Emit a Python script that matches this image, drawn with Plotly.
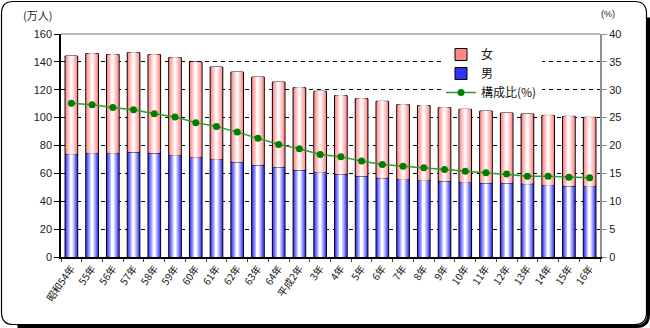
import plotly.graph_objects as go

# ---------------- data ----------------
categories = ["昭和54年", "55年", "56年", "57年", "58年", "59年", "60年", "61年", "62年", "63年",
              "64年", "平成2年", "3年", "4年", "5年", "6年", "7年", "8年", "9年", "10年",
              "11年", "12年", "13年", "14年", "15年", "16年"]
total = [144.2, 145.9, 145.2, 146.6, 145.2, 143.0, 139.9, 136.3, 132.7, 129.1,
         125.5, 121.5, 118.9, 115.8, 113.6, 111.7, 109.3, 108.7, 107.2, 106.0,
         104.7, 103.3, 102.6, 101.6, 100.9, 100.2]
male = [73.7, 74.4, 74.4, 75.3, 74.6, 73.0, 71.6, 70.1, 68.2, 66.0,
        64.6, 62.4, 60.8, 59.5, 58.1, 56.8, 55.7, 55.0, 54.5, 53.6,
        53.1, 53.1, 52.6, 51.4, 50.9, 50.7]
female = [round(t - m, 1) for t, m in zip(total, male)]
ratio = [27.6, 27.3, 26.8, 26.4, 25.7, 25.1, 24.1, 23.4, 22.4, 21.3,
         20.2, 19.4, 18.4, 18.0, 17.2, 16.6, 16.3, 16.0, 15.7, 15.4,
         15.1, 14.9, 14.5, 14.5, 14.3, 14.2]
left_ticks = [0, 20, 40, 60, 80, 100, 120, 140, 160]
right_ticks = [0, 5, 10, 15, 20, 25, 30, 35, 40]

# ---------------- layout geometry ----------------
W, H = 650, 328
L, R, T, B = 61, 50, 34, 71
PW, PH = W - L - R, H - T - B


def px(x):
    return (x - L) / PW


def py(y):
    return (H - B - y) / PH


FONT = "Liberation Sans, Noto Sans CJK JP, sans-serif"
JFONT = "Noto Sans CJK JP, sans-serif"

fig = go.Figure()

BAR_W = 0.61
NL = 7


def mix(c1, c2, t):
    return "rgb(%d,%d,%d)" % tuple(round(a + (b - a) * t) for a, b in zip(c1, c2))


def add_gradient(vals, base, edge, center, name, rank):
    for k in range(NL):
        t = k / (NL - 1)
        w = BAR_W * (1 - 0.85 * t)
        fig.add_trace(go.Bar(
            x=categories, y=vals, base=base, width=w,
            marker=dict(color=mix(edge, center, t),
                        line=dict(color="black", width=1 if k == 0 else 0)),
            name=name, showlegend=(k == 0), legendrank=rank,
            hoverinfo="skip",
        ))


add_gradient(male, [0] * len(male), (50, 50, 255), (255, 255, 255), "男", 2)
add_gradient(female, male, (255, 135, 135), (255, 248, 248), "女", 1)

fig.add_trace(go.Scatter(
    x=categories, y=ratio, yaxis="y2", mode="lines+markers",
    line=dict(color="#2f9a2f", width=1.5),
    marker=dict(color="#008000", size=7),
    name="構成比(%)", legendrank=3,
))

shapes = []
# top border of the plot area
shapes.append(dict(type="line", xref="paper", yref="paper", x0=0, x1=1, y0=1, y1=1,
                   line=dict(color="#a0a0a0", width=1.5), layer="above"))
# outer rounded frame
x0, x1, y0, y1, r = 1.5, 646.5, 1.5, 324.5, 12


def P(x, y):
    return "%f,%f" % (px(x), py(y))


path = ("M " + P(x0 + r, y0) + " L " + P(x1 - r, y0) + " Q " + P(x1, y0) + " " + P(x1, y0 + r) +
        " L " + P(x1, y1 - r) + " Q " + P(x1, y1) + " " + P(x1 - r, y1) +
        " L " + P(x0 + r, y1) + " Q " + P(x0, y1) + " " + P(x0, y1 - r) +
        " L " + P(x0, y0 + r) + " Q " + P(x0, y0) + " " + P(x0 + r, y0) + " Z")
shapes.append(dict(type="path", xref="paper", yref="paper", path=path,
                   line=dict(color="black", width=1.2), layer="below"))
# shadow on right and bottom
sx, sy = 2, 2
spath = ("M " + P(x1 + sx, y0 + r + 4) + " L " + P(x1 + sx, y1 - r + sy) + " Q " + P(x1 + sx, y1 + sy) +
         " " + P(x1 - r + sx, y1 + sy) + " L " + P(x0 + r + 4, y1 + sy))
shapes.append(dict(type="path", xref="paper", yref="paper", path=spath,
                   line=dict(color="black", width=3), layer="below"))

annotations = [
    dict(text="(万人)", xref="paper", yref="paper", x=px(21), y=py(15), xanchor="left",
         yanchor="middle", showarrow=False, font=dict(family=JFONT, size=11, color="#222")),
    dict(text="(%)", xref="paper", yref="paper", x=px(599), y=py(14), xanchor="left",
         yanchor="middle", showarrow=False, font=dict(family=FONT, size=9, color="#222")),
]

fig.update_layout(
    width=W, height=H,
    margin=dict(l=L, r=R, t=T, b=B),
    paper_bgcolor="white", plot_bgcolor="rgba(0,0,0,0)",
    barmode="overlay", bargap=0.39,
    font=dict(family=FONT, size=11, color="#222"),
    showlegend=True,
    legend=dict(x=px(441), y=py(40), xanchor="left", yanchor="top",
                bgcolor="white", borderwidth=0,
                font=dict(family=JFONT, size=12, color="#111"),
                tracegroupgap=0, itemwidth=30),
    xaxis=dict(type="category", categoryorder="array", categoryarray=categories,
               range=[-0.5, len(categories) - 0.5],
               showline=True, linecolor="black", linewidth=1.5,
               ticks="outside", tickson="boundaries", ticklen=3, tickcolor="#444",
               tickangle=-55, tickfont=dict(family=JFONT, size=10, color="#111"),
               showgrid=False),
    yaxis=dict(range=[0, 160], tickvals=left_ticks, showline=True, linecolor="black",
               linewidth=1.5, ticks="outside", ticklen=5, tickcolor="black",
               showgrid=True, gridcolor="black", gridwidth=1, griddash="4px,4px",
               zeroline=False, tickfont=dict(family=FONT, size=11, color="#222")),
    yaxis2=dict(range=[0, 40], tickvals=right_ticks, overlaying="y", side="right",
                showline=True, linecolor="#909090", linewidth=2, ticks="outside",
                ticklen=5, tickcolor="#909090", showgrid=False, zeroline=False,
                tickfont=dict(family=FONT, size=11, color="#222")),
    shapes=shapes, annotations=annotations,
)

fig.write_html("out.html")
